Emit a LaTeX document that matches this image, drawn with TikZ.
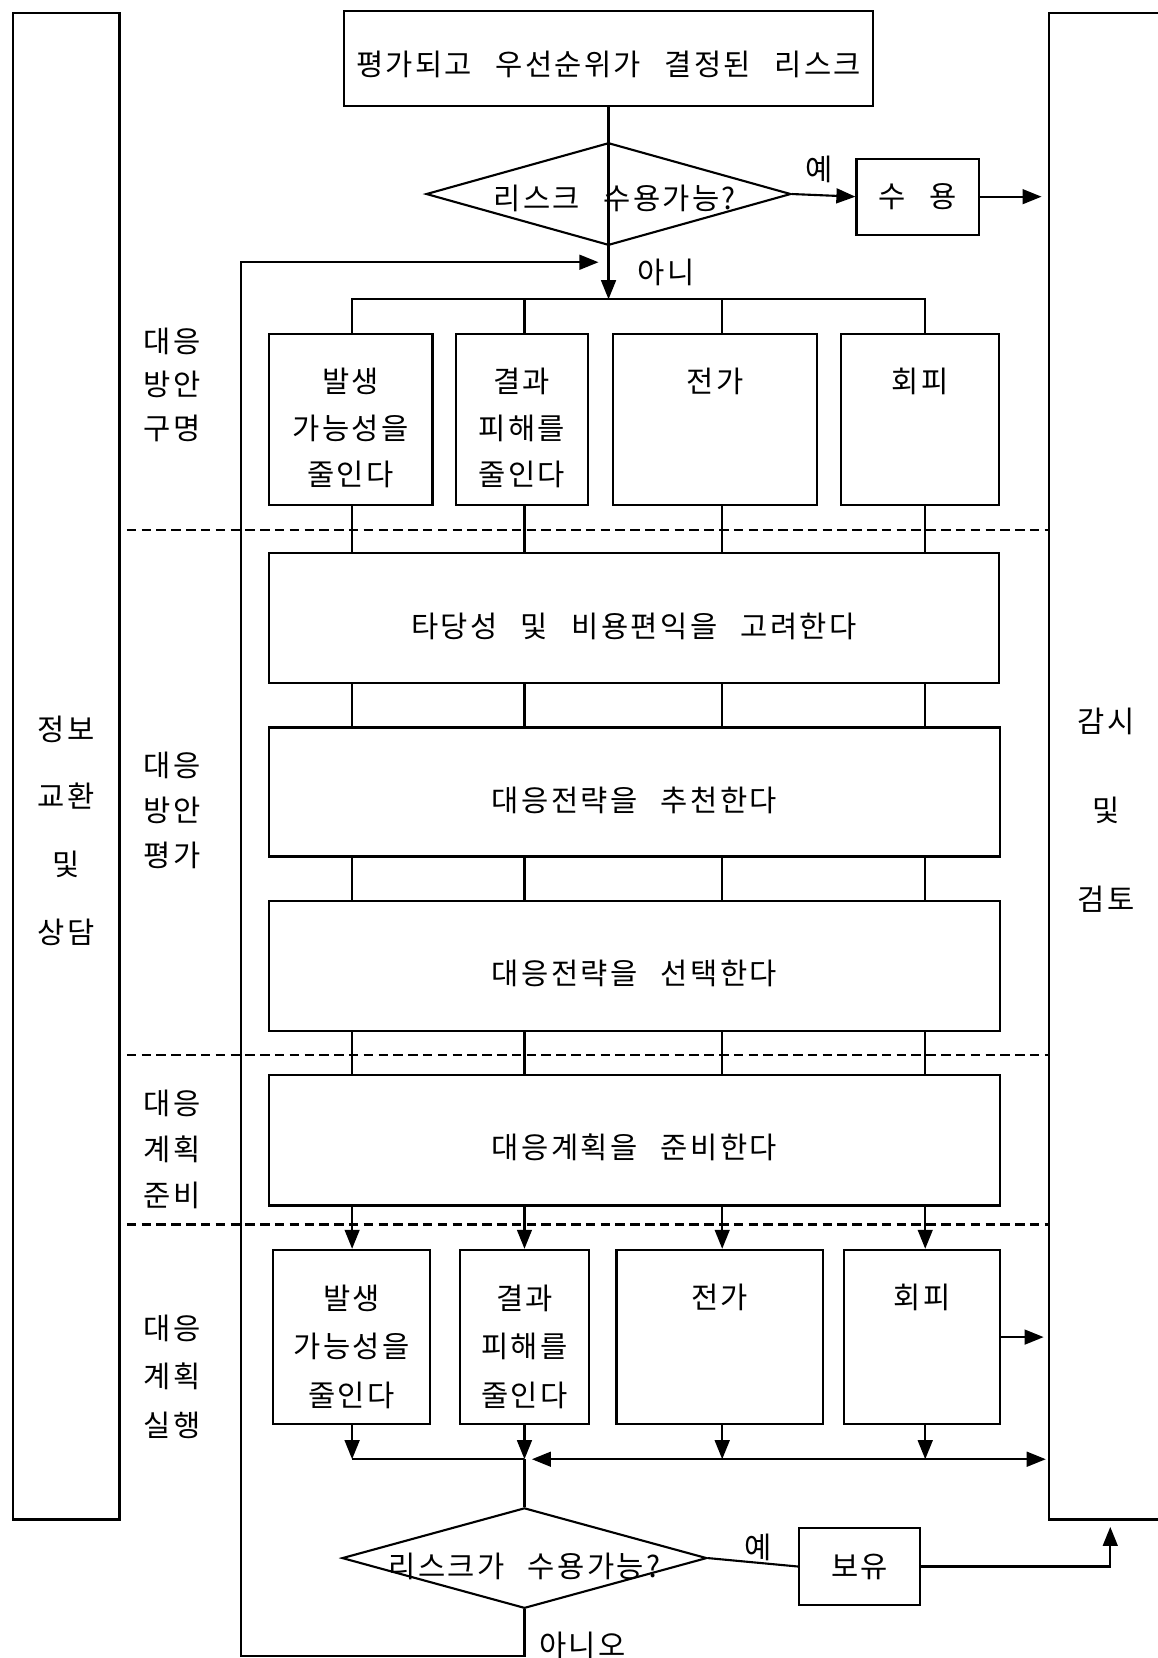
\documentclass[tikz,border=0pt]{standalone}
\usepackage{fontspec}
\newfontfamily\kr[LetterSpace=8,WordSpace=2.6]{Noto Sans CJK KR}
\usetikzlibrary{shapes.geometric,arrows.meta}
\newcommand\shiftdown[2]{\raisebox{-#1}[\height][\depth]{#2}}
\begin{document}
\begin{tikzpicture}[x=1pt,y=-1pt,
  every node/.style={font=\kr\fontsize{28}{32}\selectfont, inner sep=0pt},
  box/.style={draw, line width=2pt, rectangle, inner sep=0pt},
  ln/.style={line width=2pt},
  arr/.style={line width=2pt, -{Triangle[length=18pt,width=14pt]}},
  dblarr/.style={line width=2pt, {Triangle[length=18pt,width=14pt]}-{Triangle[length=18pt,width=14pt]}},
  dashln/.style={line width=2pt, dash pattern=on 9pt off 5pt},
  dia/.style={draw, line width=2pt, diamond, inner sep=0pt},
  ml/.style={align=center, font=\kr\fontsize{28}{#1}\selectfont},
]
\useasboundingbox (0,0) rectangle (1095,1568);
\clip (0,0) rectangle (1095,1568);

% side boxes
\node[box, minimum width=101pt, minimum height=1425pt,
  label={[ml=64, yshift=-61pt]center:정보\\교환\\및\\상담}] (L) at (62.5,724.5) {};
\node[box, minimum width=108pt, minimum height=1425pt,
  label={[ml=84, yshift=-42pt]center:감시\\및\\검토}] (R) at (1046,724.5) {};

% top part
\node[box, minimum width=501pt, minimum height=90pt] (top) at (575.5,55) {\shiftdown{6pt}{평가되고 우선순위가 결정된 리스크}};
\node[dia, minimum width=345pt, minimum height=97pt] (d1) at (575.5,183.5) {\makebox[0pt]{\hspace{12pt}\shiftdown{4pt}{리스크 수용가능?}}};
\node[box, minimum width=116pt, minimum height=72pt] (acc) at (868,186) {수 용};
\node (yes1) at (775,160) {예};
\node (no1) at (630,258) {아니};

% row 1
\node[box, minimum width=155pt, minimum height=162pt,
  label={[ml=44, yshift=-8pt]center:발생\\가능성을\\줄인다}] (A) at (331.5,397) {};
\node[box, minimum width=125pt, minimum height=162pt,
  label={[ml=44, yshift=-8pt]center:결과\\피해를\\줄인다}] (B) at (493.5,397) {};
\node[box, minimum width=193pt, minimum height=162pt,
  label={[yshift=36pt]center:전가}] (C) at (676.5,397) {};
\node[box, minimum width=150pt, minimum height=162pt,
  label={[yshift=36pt]center:회피}] (D) at (870,397) {};

% big boxes
\node[box, minimum width=691pt, minimum height=123pt] (E) at (599.5,584.5) {\shiftdown{8pt}{타당성 및 비용편익을 고려한다}};
\node[box, minimum width=692pt, minimum height=122pt] (F) at (600,749) {\shiftdown{8pt}{대응전략을 추천한다}};
\node[box, minimum width=692pt, minimum height=123pt] (G) at (600,913.5) {\shiftdown{7pt}{대응전략을 선택한다}};
\node[box, minimum width=692pt, minimum height=123pt] (H) at (600,1078.5) {\shiftdown{7pt}{대응계획을 준비한다}};

% row 2
\node[box, minimum width=149pt, minimum height=165pt,
  label={[ml=46, yshift=-9pt]center:발생\\가능성을\\줄인다}] (A2) at (332.5,1264.5) {};
\node[box, minimum width=122pt, minimum height=165pt,
  label={[ml=46, yshift=-9pt]center:결과\\피해를\\줄인다}] (B2) at (496,1264.5) {};
\node[box, minimum width=195pt, minimum height=165pt,
  label={[yshift=38pt]center:전가}] (C2) at (680.5,1264.5) {};
\node[box, minimum width=148pt, minimum height=165pt,
  label={[yshift=38pt]center:회피}] (D2) at (872,1264.5) {};

% bottom decision
\node[dia, minimum width=345pt, minimum height=95pt] (d2) at (496,1473.5) {\makebox[0pt]{\shiftdown{8pt}{리스크가 수용가능?}}};
\node[box, minimum width=114pt, minimum height=73pt] (keep) at (813,1481.5) {보유};
\node (yes2) at (717,1463) {예};
\node (no2) at (551,1556) {아니오};

% side labels
\node[ml=41.5] (s1) at (163,364) {대응\\방안\\구명};
\node[ml=42.5] (s2) at (163,766) {대응\\방안\\평가};
\node[ml=43.5] (s3) at (163,1087) {대응\\계획\\준비};
\node[ml=46] (s4) at (163,1302) {대응\\계획\\실행};

% helper coordinates
\coordinate (c1) at (333,0);
\coordinate (c2) at (496,0);
\coordinate (c3) at (683,0);
\coordinate (c4) at (875,0);
\coordinate (br) at (575.5,283);
\coordinate (dy1) at (0,501);
\coordinate (dy2) at (0,998);
\coordinate (dy3) at (0,1158);
\coordinate (jy) at (0,1380);
\coordinate (j) at (c2 |- jy);
\coordinate (lb) at (228,1566);
\coordinate (lt) at (228,248);
\coordinate (le) at (566,248);
\coordinate (kx) at (1050,0);

% dashed separators
\foreach \d in {dy1,dy2,dy3}{
  \draw[dashln, shorten <=6pt] (L.east |- \d) -- (R.west |- \d);
}

% top flow
\draw[arr] (top.south) -- (br);
\draw[arr] (d1.east) -- (acc.west);
\draw[arr, shorten >=6pt] (acc.east) -- (acc.east -| R.west);

% branch to row 1
\draw[ln] (A.north -| c1) -- (c1 |- br) -- (c4 |- br) -- (D.north -| c4);
\draw[ln] (c2 |- br) -- (B.north -| c2);
\draw[ln] (c3 |- br) -- (C.north -| c3);

% row 1 to E
\draw[ln] (A.south -| c1) -- (E.north -| c1);
\draw[ln] (B.south -| c2) -- (E.north -| c2);
\draw[ln] (C.south -| c3) -- (E.north -| c3);
\draw[ln] (D.south -| c4) -- (E.north -| c4);

% between big boxes
\foreach \u/\v in {E/F,F/G,G/H}{
  \foreach \c in {c1,c2,c3,c4}{
    \draw[ln] (\u.south -| \c) -- (\v.north -| \c);
  }
}

% H to row 2
\draw[arr] (H.south -| c1) -- (A2.north -| c1);
\draw[arr] (H.south -| c2) -- (B2.north -| c2);
\draw[arr] (H.south -| c3) -- (C2.north -| c3);
\draw[arr] (H.south -| c4) -- (D2.north -| c4);

% row 2 outputs
\draw[arr, shorten >=4pt] (D2.east) -- (D2.east -| R.west);
\draw[arr] (A2.south -| c1) -- (c1 |- jy);
\draw[ln] (c1 |- jy) -- (j);
\draw[arr] (B2.south -| c2) -- (j);
\draw[arr] (C2.south -| c3) -- (c3 |- jy);
\draw[arr] (D2.south -| c4) -- (c4 |- jy);
\draw[dblarr, shorten >=2pt] ([xshift=7pt]j) -- (R.west |- jy);
\draw[ln] (j) -- (d2.north);

% bottom decision outputs
\draw[ln] (d2.east) -- (keep.west);
\draw[arr, shorten >=6pt] (keep.east) -- (keep.east -| kx) -- (kx |- R.south);
\draw[arr] (d2.south) -- (d2.south |- lb) -- (lb) -- (lt) -- (le);
\end{tikzpicture}
\end{document}
